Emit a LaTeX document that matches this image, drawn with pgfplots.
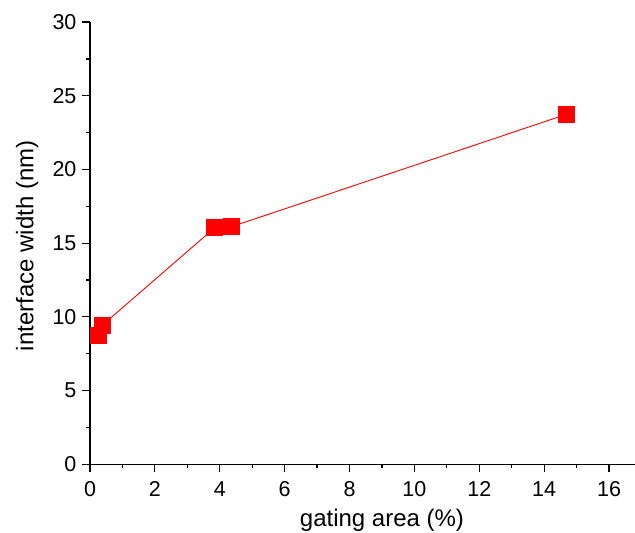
\documentclass[border=0pt]{standalone}
\usepackage{pgfplots}
\pgfplotsset{compat=1.18}
\usepackage{fontspec}
\setmainfont{Liberation Sans}
\begin{document}
\begin{tikzpicture}
\begin{axis}[
  scale only axis,
  width=583.9pt, height=442pt,
  xmin=0, xmax=18, ymin=0, ymax=30,
  axis x line*=bottom, axis y line*=left,
  axis line style={-, line width=1.2pt, black},
  xtick={0,2,...,16}, ytick={0,5,...,30},
  minor xtick={1,3,...,17}, minor ytick={2.5,7.5,...,27.5},
  tick align=outside,
  major tick length=8pt, minor tick length=4pt,
  every tick/.style={black, line width=1.2pt},
  /pgf/number format/assume math mode=true,
  tick label style={font=\fontsize{21.5}{24}\selectfont},
  xticklabel style={yshift=-6pt},
  yticklabel style={xshift=-2pt},
  label style={font=\fontsize{24}{27}\selectfont},
  xlabel={gating area (\%)},
  ylabel={interface width (nm)},
  xlabel style={at={(axis description cs:0.5,-0.1414)}, anchor=base},
  ylabel style={at={(axis description cs:-0.0968,0.494)}, anchor=base},
  clip=false,
]
\addplot[red, line width=0.9pt, mark=square*, mark size=8pt,
  mark options={fill=red, draw=red, line width=0pt}]
  coordinates {(0.27,8.70) (0.376,9.42) (3.853,16.06) (4.37,16.12) (14.69,23.74)};
\coordinate (bl) at (axis cs:-2.774,-4.617);
\coordinate (tr) at (axis cs:16.80,31.50);
\end{axis}
\pgfresetboundingbox
\useasboundingbox (bl) rectangle (tr);
\end{tikzpicture}
\end{document}
